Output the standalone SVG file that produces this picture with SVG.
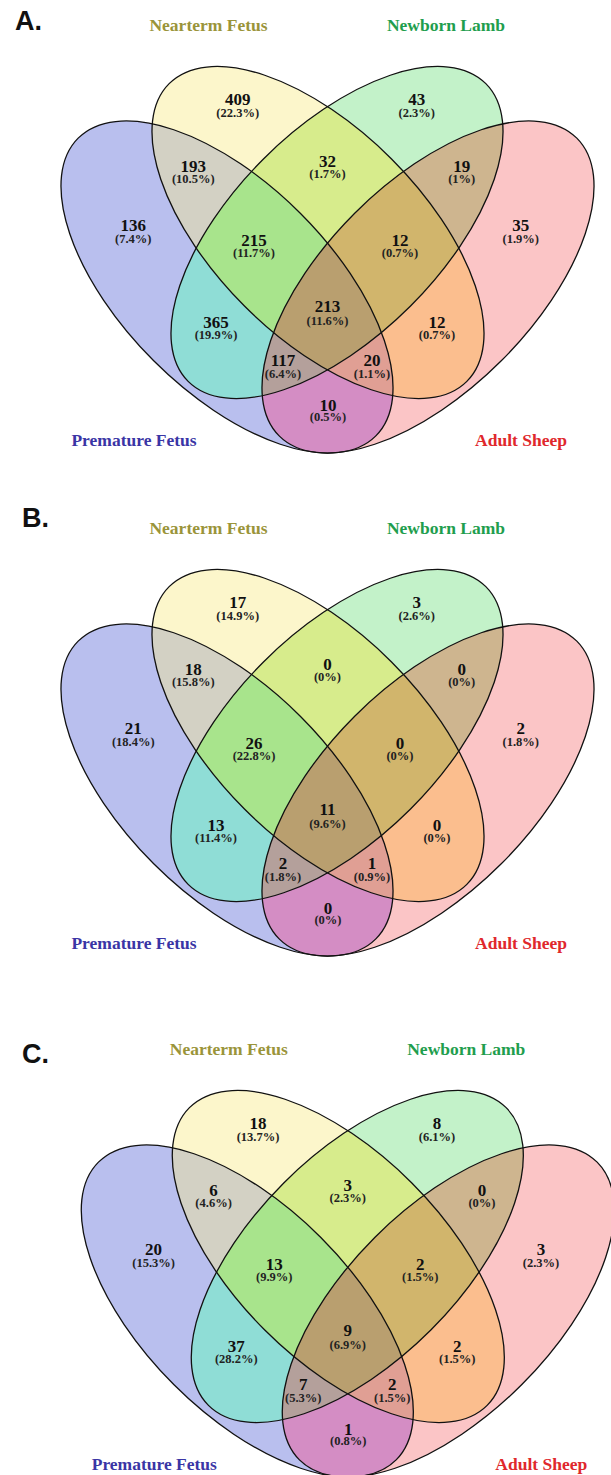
<svg xmlns="http://www.w3.org/2000/svg" xmlns:xlink="http://www.w3.org/1999/xlink" width="611" height="1475" viewBox="0 0 611 1475">
<style>
.pl{font-family:"Liberation Sans",Arial,sans-serif;font-weight:bold;font-size:27px;fill:#111}
.t{font-family:"Liberation Serif","Times New Roman",serif;font-weight:bold;font-size:17.5px;text-anchor:middle}
.n{font-family:"Liberation Serif","Times New Roman",serif;font-weight:bold;font-size:17px;text-anchor:middle;fill:#111}
.p{font-family:"Liberation Serif","Times New Roman",serif;font-weight:bold;font-size:12.5px;text-anchor:middle;fill:#222}
.ol{fill:none;stroke:#111;stroke-width:1.3}
</style>
<defs>
<ellipse id="eB" cx="227" cy="287" rx="210.5" ry="104" transform="rotate(45 227 287)"/>
<ellipse id="eY" cx="318" cy="232.5" rx="210.5" ry="104" transform="rotate(45 318 232.5)"/>
<ellipse id="eG" cx="337" cy="232.5" rx="210.5" ry="104" transform="rotate(-45 337 232.5)"/>
<ellipse id="eR" cx="428" cy="287" rx="210.5" ry="104" transform="rotate(-45 428 287)"/>
<clipPath id="cB"><use xlink:href="#eB"/></clipPath>
<clipPath id="cY"><use xlink:href="#eY"/></clipPath>
<clipPath id="cG"><use xlink:href="#eG"/></clipPath>
<clipPath id="cR"><use xlink:href="#eR"/></clipPath>
<g id="venn">
<use xlink:href="#eB" fill="#b9bfee"/>
<use xlink:href="#eY" fill="#fcf6cb"/>
<use xlink:href="#eG" fill="#c3f2c9"/>
<use xlink:href="#eR" fill="#fbc5c6"/>
<g clip-path="url(#cB)"><use xlink:href="#eY" fill="#d3d1c4"/></g>
<g clip-path="url(#cB)"><use xlink:href="#eG" fill="#8fddd6"/></g>
<g clip-path="url(#cB)"><use xlink:href="#eR" fill="#d48dc4"/></g>
<g clip-path="url(#cY)"><use xlink:href="#eG" fill="#d7ec8c"/></g>
<g clip-path="url(#cY)"><use xlink:href="#eR" fill="#fbbe8e"/></g>
<g clip-path="url(#cG)"><use xlink:href="#eR" fill="#ceb58f"/></g>
<g clip-path="url(#cB)"><g clip-path="url(#cY)"><use xlink:href="#eG" fill="#a8e48c"/></g></g>
<g clip-path="url(#cB)"><g clip-path="url(#cY)"><use xlink:href="#eR" fill="#e09f94"/></g></g>
<g clip-path="url(#cB)"><g clip-path="url(#cG)"><use xlink:href="#eR" fill="#b4a09b"/></g></g>
<g clip-path="url(#cY)"><g clip-path="url(#cG)"><use xlink:href="#eR" fill="#d1b56c"/></g></g>
<g clip-path="url(#cB)"><g clip-path="url(#cY)"><g clip-path="url(#cG)"><use xlink:href="#eR" fill="#b99f6f"/></g></g></g>
<use xlink:href="#eB" class="ol"/>
<use xlink:href="#eY" class="ol"/>
<use xlink:href="#eG" class="ol"/>
<use xlink:href="#eR" class="ol"/>
</g>
<g id="titles">
<text class="t" x="208.5" y="30.5" fill="#9a943a">Nearterm Fetus</text>
<text class="t" x="446" y="30.5" fill="#1f9e4e">Newborn Lamb</text>
<text class="t" x="134" y="446" fill="#3a35a5">Premature Fetus</text>
<text class="t" x="521" y="446" fill="#e0282c">Adult Sheep</text>
</g>
</defs>

<g id="panelA">
<text class="pl" x="15" y="30">A.</text>
<use xlink:href="#venn"/>
<use xlink:href="#titles"/>
<g id="labelsA">
<text class="n" x="237.7" y="104.7">409</text><text class="p" x="237.7" y="116.5">(22.3%)</text>
<text class="n" x="416.7" y="104.7">43</text><text class="p" x="416.7" y="116.5">(2.3%)</text>
<text class="n" x="193.3" y="171.7">193</text><text class="p" x="193.3" y="183.2">(10.5%)</text>
<text class="n" x="327.5" y="167.4">32</text><text class="p" x="327.5" y="178.2">(1.7%)</text>
<text class="n" x="461.7" y="171.7">19</text><text class="p" x="461.7" y="183.2">(1%)</text>
<text class="n" x="133.3" y="230.7">136</text><text class="p" x="133.3" y="242.5">(7.4%)</text>
<text class="n" x="520.7" y="230.7">35</text><text class="p" x="520.7" y="242.5">(1.9%)</text>
<text class="n" x="254" y="245.7">215</text><text class="p" x="254" y="257.2">(11.7%)</text>
<text class="n" x="400" y="245.7">12</text><text class="p" x="400" y="257.2">(0.7%)</text>
<text class="n" x="327.5" y="312.4">213</text><text class="p" x="327.5" y="324.9">(11.6%)</text>
<text class="n" x="216" y="328.4">365</text><text class="p" x="216" y="339.2">(19.9%)</text>
<text class="n" x="437" y="328.4">12</text><text class="p" x="437" y="339.2">(0.7%)</text>
<text class="n" x="283" y="366.4">117</text><text class="p" x="283" y="377.7">(6.4%)</text>
<text class="n" x="372" y="366.4">20</text><text class="p" x="372" y="377.7">(1.1%)</text>
<text class="n" x="328" y="410.7">10</text><text class="p" x="328" y="420.9">(0.5%)</text>
</g>
</g>

<g id="panelB">
<text class="pl" x="22" y="527">B.</text>
<g transform="translate(0,503)">
<use xlink:href="#venn"/>
<use xlink:href="#titles"/>
<g id="labelsB">
<text class="n" x="237.7" y="104.7">17</text><text class="p" x="237.7" y="116.5">(14.9%)</text>
<text class="n" x="416.7" y="104.7">3</text><text class="p" x="416.7" y="116.5">(2.6%)</text>
<text class="n" x="193.3" y="171.7">18</text><text class="p" x="193.3" y="183.2">(15.8%)</text>
<text class="n" x="327.5" y="167.4">0</text><text class="p" x="327.5" y="178.2">(0%)</text>
<text class="n" x="461.7" y="171.7">0</text><text class="p" x="461.7" y="183.2">(0%)</text>
<text class="n" x="133.3" y="230.7">21</text><text class="p" x="133.3" y="242.5">(18.4%)</text>
<text class="n" x="520.7" y="230.7">2</text><text class="p" x="520.7" y="242.5">(1.8%)</text>
<text class="n" x="254" y="245.7">26</text><text class="p" x="254" y="257.2">(22.8%)</text>
<text class="n" x="400" y="245.7">0</text><text class="p" x="400" y="257.2">(0%)</text>
<text class="n" x="327.5" y="312.4">11</text><text class="p" x="327.5" y="324.9">(9.6%)</text>
<text class="n" x="216" y="328.4">13</text><text class="p" x="216" y="339.2">(11.4%)</text>
<text class="n" x="437" y="328.4">0</text><text class="p" x="437" y="339.2">(0%)</text>
<text class="n" x="283" y="366.4">2</text><text class="p" x="283" y="377.7">(1.8%)</text>
<text class="n" x="372" y="366.4">1</text><text class="p" x="372" y="377.7">(0.9%)</text>
<text class="n" x="328" y="410.7">0</text><text class="p" x="328" y="420.9">(0%)</text>
</g>
</g>
</g>

<g id="panelC">
<text class="pl" x="22" y="1063">C.</text>
<g transform="translate(20.3,1024)">
<use xlink:href="#venn"/>
<use xlink:href="#titles"/>
<g id="labelsC">
<text class="n" x="237.7" y="104.7">18</text><text class="p" x="237.7" y="116.5">(13.7%)</text>
<text class="n" x="416.7" y="104.7">8</text><text class="p" x="416.7" y="116.5">(6.1%)</text>
<text class="n" x="193.3" y="171.7">6</text><text class="p" x="193.3" y="183.2">(4.6%)</text>
<text class="n" x="327.5" y="167.4">3</text><text class="p" x="327.5" y="178.2">(2.3%)</text>
<text class="n" x="461.7" y="171.7">0</text><text class="p" x="461.7" y="183.2">(0%)</text>
<text class="n" x="133.3" y="230.7">20</text><text class="p" x="133.3" y="242.5">(15.3%)</text>
<text class="n" x="520.7" y="230.7">3</text><text class="p" x="520.7" y="242.5">(2.3%)</text>
<text class="n" x="254" y="245.7">13</text><text class="p" x="254" y="257.2">(9.9%)</text>
<text class="n" x="400" y="245.7">2</text><text class="p" x="400" y="257.2">(1.5%)</text>
<text class="n" x="327.5" y="312.4">9</text><text class="p" x="327.5" y="324.9">(6.9%)</text>
<text class="n" x="216" y="328.4">37</text><text class="p" x="216" y="339.2">(28.2%)</text>
<text class="n" x="437" y="328.4">2</text><text class="p" x="437" y="339.2">(1.5%)</text>
<text class="n" x="283" y="366.4">7</text><text class="p" x="283" y="377.7">(5.3%)</text>
<text class="n" x="372" y="366.4">2</text><text class="p" x="372" y="377.7">(1.5%)</text>
<text class="n" x="328" y="410.7">1</text><text class="p" x="328" y="420.9">(0.8%)</text>
</g>
</g>
</g>
</svg>
